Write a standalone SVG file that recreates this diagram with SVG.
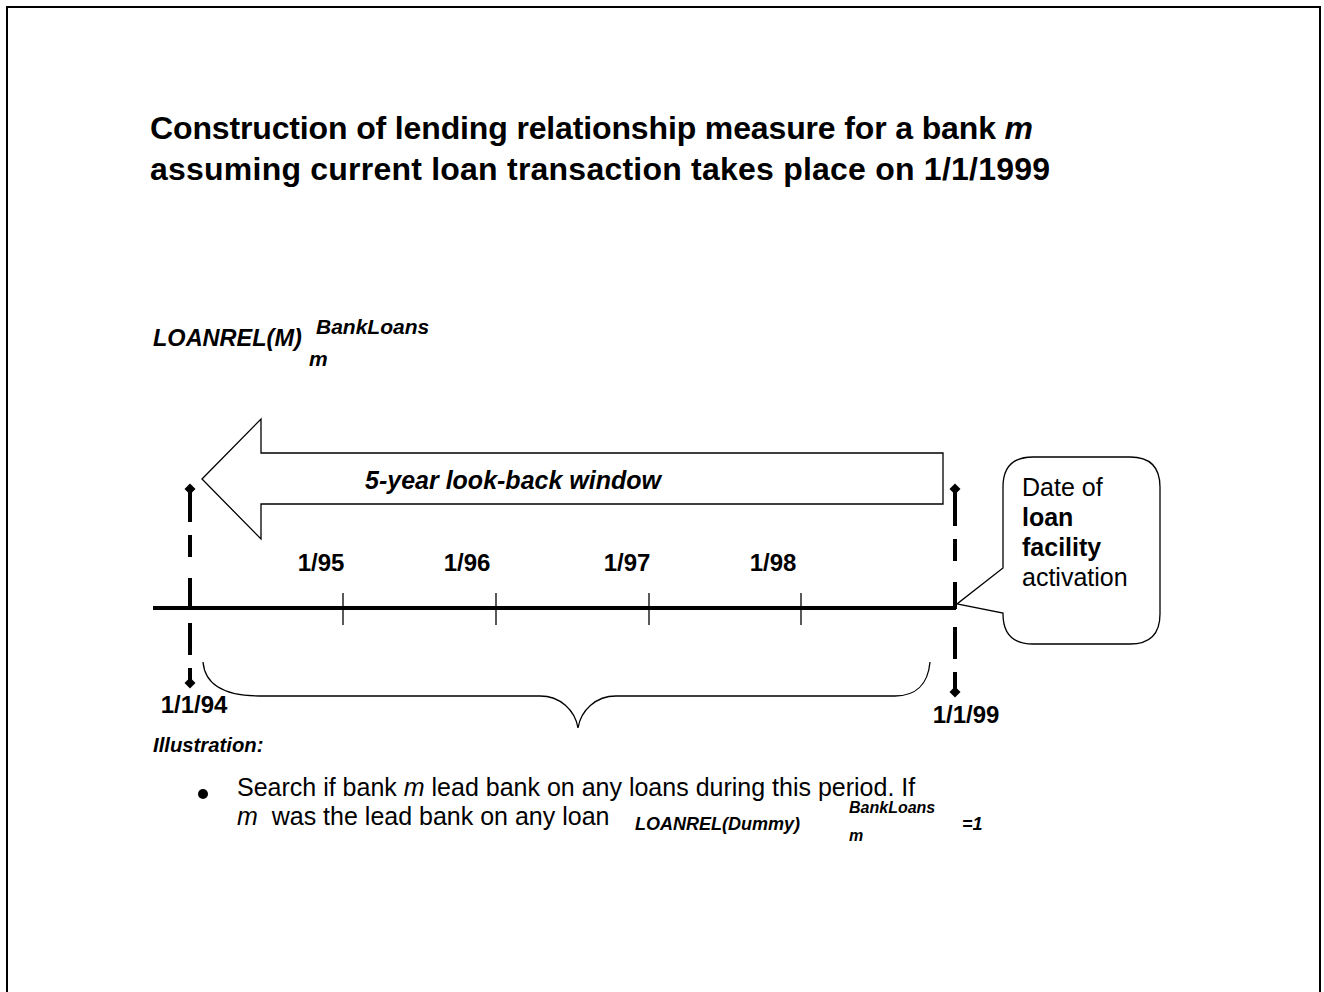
<svg xmlns="http://www.w3.org/2000/svg" width="1324" height="992" viewBox="0 0 1324 992">
<defs>
<style>
text{font-family:"Liberation Sans",Arial,sans-serif;fill:#000}
.b{font-weight:bold}
.i{font-style:italic}
.bi{font-weight:bold;font-style:italic}
.vl{stroke:#000;stroke-width:4;fill:none}
.thin{stroke:#000;stroke-width:1.3;fill:none}
</style>
<marker id="dia" markerWidth="12" markerHeight="12" refX="6" refY="6" orient="auto" markerUnits="userSpaceOnUse">
<path d="M6,0.5 L11.5,6 L6,11.5 L0.5,6 Z" fill="#000"/>
</marker>
</defs>
<rect x="7" y="7" width="1313" height="1000" fill="#fff" stroke="#000" stroke-width="2"/>

<g id="title">
<text class="b" x="150" y="139" font-size="32" textLength="883">Construction of lending relationship measure for a bank <tspan class="bi">m</tspan></text>
<text class="b" x="150" y="180" font-size="32" textLength="900">assuming current loan transaction takes place on 1/1/1999</text>
</g>

<g id="loanrel-label">
<text class="bi" x="153" y="346" font-size="23.5">LOANREL(M)</text>
<text class="bi" x="316" y="334" font-size="21">BankLoans</text>
<text class="bi" x="309" y="366" font-size="21">m</text>
</g>

<g id="lookback-arrow">
<polygon points="202,479 261,419 261,453 943,453 943,504 261,504 261,539" fill="#fff" stroke="#000" stroke-width="1.3"/>
<text class="bi" x="513" y="489" font-size="25" text-anchor="middle">5-year look-back window</text>
</g>

<g id="connectors">
<line x1="153" y1="608" x2="956" y2="608" stroke="#000" stroke-width="4"/>
<line class="thin" x1="343" y1="593" x2="343" y2="625"/>
<line class="thin" x1="496" y1="593" x2="496" y2="625"/>
<line class="thin" x1="649" y1="593" x2="649" y2="625"/>
<line class="thin" x1="801" y1="593" x2="801" y2="625"/>
<line class="vl" x1="190" y1="522" x2="190" y2="489" marker-end="url(#dia)"/>
<line class="vl" x1="190" y1="535" x2="190" y2="557"/>
<line class="vl" x1="190" y1="578" x2="190" y2="609"/>
<line class="vl" x1="190" y1="623" x2="190" y2="655"/>
<line class="vl" x1="190" y1="668" x2="190" y2="683" marker-end="url(#dia)"/>
<line class="vl" x1="955" y1="526" x2="955" y2="489" marker-end="url(#dia)"/>
<line class="vl" x1="955" y1="539" x2="955" y2="561"/>
<line class="vl" x1="955" y1="582" x2="955" y2="609"/>
<line class="vl" x1="955" y1="627" x2="955" y2="659"/>
<line class="vl" x1="955" y1="672" x2="955" y2="692" marker-end="url(#dia)"/>
<path class="thin" d="M203,662 C205,685 225,696 260,696 L540,696 C560,696 575,710 578,728 C581,710 596,696 616,696 L895,696 C915,696 928,685 930,662"/>
</g>

<g id="tick-labels">
<text class="b" x="321" y="571" font-size="24" text-anchor="middle">1/95</text>
<text class="b" x="467" y="571" font-size="24" text-anchor="middle">1/96</text>
<text class="b" x="627" y="571" font-size="24" text-anchor="middle">1/97</text>
<text class="b" x="773" y="571" font-size="24" text-anchor="middle">1/98</text>
<text class="b" x="194" y="713" font-size="24" text-anchor="middle">1/1/94</text>
<text class="b" x="966" y="723" font-size="24" text-anchor="middle">1/1/99</text>
</g>

<g id="callout">
<path d="M1033,457 L1130,457 Q1160,457 1160,487 L1160,614 Q1160,644 1130,644 L1033,644 Q1003,644 1003,614 L1003,613 L957,604 L1003,568 L1003,487 Q1003,457 1033,457 Z" fill="#fff" stroke="#000" stroke-width="1.3"/>
<text x="1022" y="496" font-size="25">Date of</text>
<text class="b" x="1022" y="526" font-size="25">loan</text>
<text class="b" x="1022" y="556" font-size="25">facility</text>
<text x="1022" y="586" font-size="25">activation</text>
</g>

<g id="illustration">
<text class="bi" x="153" y="752" font-size="20.3">Illustration:</text>
<circle cx="203" cy="794" r="5" fill="#000"/>
<text x="237" y="796" font-size="25">Search if bank <tspan class="i">m</tspan> lead bank on any loans during this period. If</text>
<text x="237" y="825" font-size="25" xml:space="preserve"><tspan class="i">m</tspan>  was the lead bank on any loan</text>
<text class="bi" x="635" y="830" font-size="18">LOANREL(Dummy)</text>
<text class="bi" x="849" y="813" font-size="16">BankLoans</text>
<text class="bi" x="849" y="841" font-size="16">m</text>
<text class="bi" x="962" y="830" font-size="18">=1</text>
</g>
</svg>
